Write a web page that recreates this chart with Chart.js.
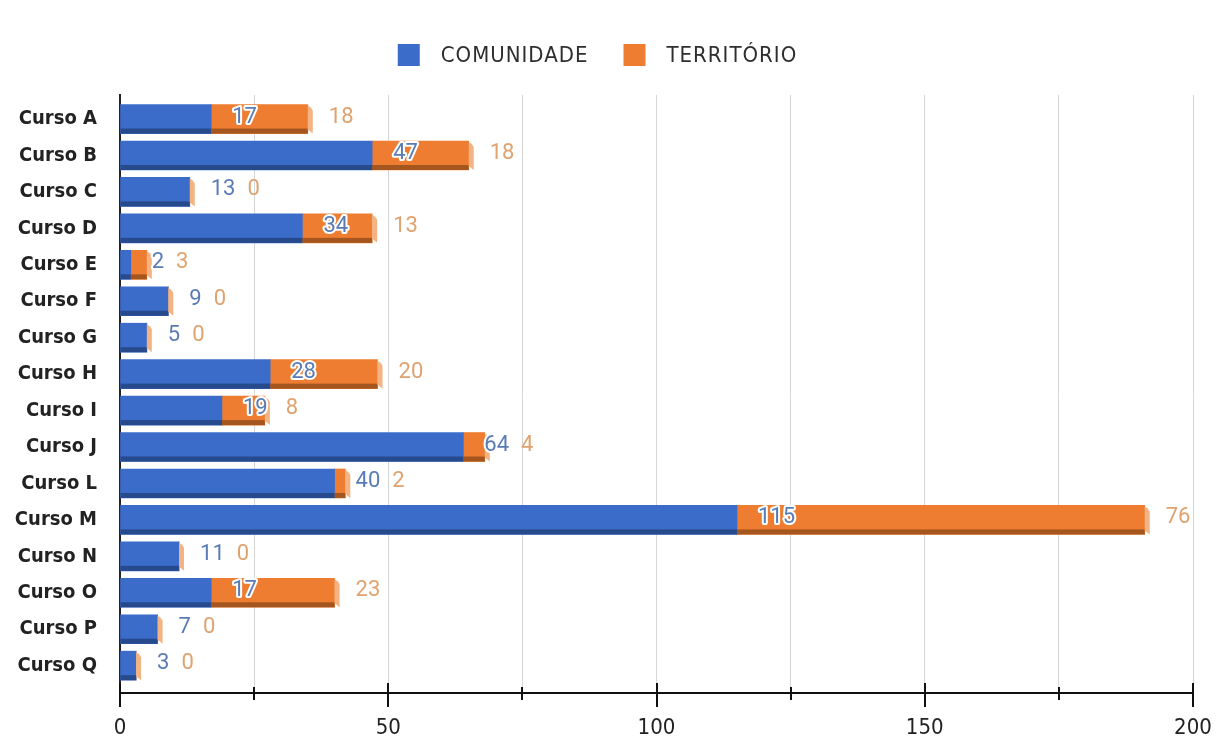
<!DOCTYPE html>
<html lang="pt">
<head>
<meta charset="utf-8">
<title>Comunidade e Território por curso</title>
<script src="https://cdn.jsdelivr.net/npm/chart.js@4.4.1/dist/chart.umd.min.js"></script>
<style>
  html, body { margin: 0; padding: 0; background: #fff; }
  #wrap { width: 1223px; height: 742px; }
</style>
</head>
<body>
<div id="wrap"><canvas id="chart"></canvas></div>
<script>
// Data
const cursos = ["Curso A", "Curso B", "Curso C", "Curso D", "Curso E", "Curso F", "Curso G", "Curso H",
  "Curso I", "Curso J", "Curso L", "Curso M", "Curso N", "Curso O", "Curso P", "Curso Q"];
const comunidade = [17, 47, 13, 34, 2, 9, 5, 28, 19, 64, 40, 115, 11, 17, 7, 3];
const territorio = [18, 18, 0, 13, 3, 0, 0, 20, 8, 4, 2, 76, 0, 23, 0, 0];
const seriesNames = ["COMUNIDADE", "TERRITÓRIO"];

// Colours
const BLUE = "#3b6cc9", BLUE_DARK = "#274a8c", BLUE_TEXT = "#5a7cb6";
const ORANGE = "#ee7d31", ORANGE_DARK = "#a5561f", ORANGE_TEXT = "#e0a26f", SIDE = "#f3b383";
const COND = "'DejaVu Sans Condensed', 'DejaVu Sans', sans-serif";

// darker bottom strip + right side face, gives the bars some depth
const bar3d = {
  id: "bar3d",
  afterDatasetsDraw(chart) {
    const { ctx } = chart;
    const shade = [BLUE_DARK, ORANGE_DARK];
    ctx.save();
    chart.data.datasets.forEach((ds, d) => {
      chart.getDatasetMeta(d).data.forEach((bar) => {
        const { x, y, base, height } = bar.getProps(["x", "y", "base", "height"], true);
        const bottom = y + height / 2;
        ctx.fillStyle = shade[d];
        ctx.fillRect(Math.min(base, x), bottom - 5, Math.abs(x - base), 5);
      });
    });
    chart.getDatasetMeta(1).data.forEach((bar) => {
      const { x, y, height } = bar.getProps(["x", "y", "height"], true);
      const top = y - height / 2, bottom = y + height / 2;
      ctx.fillStyle = SIDE;
      ctx.beginPath();
      ctx.moveTo(x, top + 1);
      ctx.lineTo(x + 3, top + 3);
      ctx.lineTo(x + 5, top + 6);
      ctx.lineTo(x + 5, bottom);
      ctx.lineTo(x, bottom - 4);
      ctx.closePath();
      ctx.fill();
    });
    ctx.restore();
  },
};

// value labels: comunidade after its segment, território after the stack
const valueLabels = {
  id: "valueLabels",
  afterDatasetsDraw(chart) {
    const { ctx } = chart;
    const m0 = chart.getDatasetMeta(0), m1 = chart.getDatasetMeta(1);
    ctx.save();
    ctx.font = "22px Roboto, sans-serif";
    ctx.textBaseline = "middle";
    ctx.textAlign = "left";
    ctx.lineJoin = "round";
    cursos.forEach((c, i) => {
      const b = m0.data[i], o = m1.data[i];
      const y = b.y - 2;
      const t0 = String(comunidade[i]);
      const x0 = b.x + 21;
      ctx.lineWidth = 4;
      ctx.strokeStyle = "#fff";
      ctx.strokeText(t0, x0, y);
      ctx.fillStyle = BLUE_TEXT;
      ctx.fillText(t0, x0, y);
      const x1 = Math.max(o.x + 21, x0 + ctx.measureText(t0).width + 12);
      ctx.fillStyle = ORANGE_TEXT;
      ctx.fillText(String(territorio[i]), x1, y);
    });
    ctx.restore();
  },
};

// tick marks crossing the x axis line
const axisTicks = {
  id: "axisTicks",
  afterDraw(chart) {
    const { ctx } = chart;
    const xs = chart.scales.x;
    const yb = chart.chartArea.bottom;
    ctx.save();
    ctx.strokeStyle = "#111";
    ctx.lineWidth = 2;
    ctx.beginPath();
    xs.ticks.forEach((t) => {
      const px = Math.round(xs.getPixelForValue(t.value));
      const major = t.value % 50 === 0;
      ctx.moveTo(px, yb - (major ? 10 : 6));
      ctx.lineTo(px, yb + (major ? 14 : 7));
    });
    ctx.stroke();
    ctx.restore();
  },
};

// legend row at the top
const legendTop = {
  id: "legendTop",
  afterDraw(chart) {
    const { ctx } = chart;
    const box = 22, gap = 21, itemGap = 35, cy = 55;
    ctx.save();
    ctx.font = "22px " + COND;
    ctx.letterSpacing = "1px";
    ctx.textBaseline = "middle";
    const items = chart.data.datasets.map((ds) => ({
      text: ds.label, color: ds.backgroundColor, w: ctx.measureText(ds.label).width,
    }));
    const total = items.reduce((s, it) => s + box + gap + it.w, 0) + itemGap * (items.length - 1);
    let x = (chart.width - total) / 2 - 14;
    items.forEach((it) => {
      ctx.fillStyle = it.color;
      ctx.fillRect(x, cy - box / 2, box, box);
      x += box + gap;
      ctx.fillStyle = "#2e2e2e";
      ctx.fillText(it.text, x, cy + 1);
      x += it.w + itemGap;
    });
    ctx.restore();
  },
};

const ctx = document.getElementById("chart").getContext("2d");
const chart = new Chart(ctx, {
  type: "bar",
  data: {
    datasets: [
      {
        label: seriesNames[0],
        data: cursos.map((c, i) => ({ x: comunidade[i], y: i })),
        backgroundColor: BLUE,
        barThickness: 29,
      },
      {
        label: seriesNames[1],
        data: cursos.map((c, i) => ({ x: territorio[i], y: i })),
        backgroundColor: ORANGE,
        barThickness: 29,
      },
    ],
  },
  options: {
    indexAxis: "y",
    responsive: true,
    maintainAspectRatio: false,
    animation: false,
    layout: { padding: { top: 95, right: 30, left: 0, bottom: 0 } },
    plugins: { legend: { display: false }, tooltip: { enabled: false } },
    scales: {
      x: {
        type: "linear",
        stacked: true,
        min: 0,
        max: 200,
        ticks: {
          stepSize: 25,
          autoSkip: false,
          maxRotation: 0,
          callback: (v) => (v % 50 === 0 ? v : ""),
          font: { family: COND, size: 22 },
          color: "#222",
          padding: 22,
        },
        grid: { color: "#d6d6d6", drawTicks: false },
        border: { color: "#111", width: 2 },
        afterFit: (s) => {
          s.height = 49;
          s.paddingRight = 0;
          s.paddingLeft = 0;
        },
      },
      y: {
        type: "linear",
        stacked: true,
        reverse: true,
        offset: false,
        min: -0.66,
        max: 15.75,
        afterBuildTicks: (s) => { s.ticks = cursos.map((c, i) => ({ value: i })); },
        ticks: {
          autoSkip: false,
          callback: (v) => cursos[v],
          font: { family: COND, size: 20, weight: "bold" },
          color: "#222",
          padding: 23,
        },
        grid: { display: false, drawTicks: false, offset: false },
        border: { color: "#222", width: 2 },
        afterFit: (s) => { s.width = 120; },
      },
    },
  },
  plugins: [bar3d, valueLabels, axisTicks, legendTop],
});
</script>
</body>
</html>
